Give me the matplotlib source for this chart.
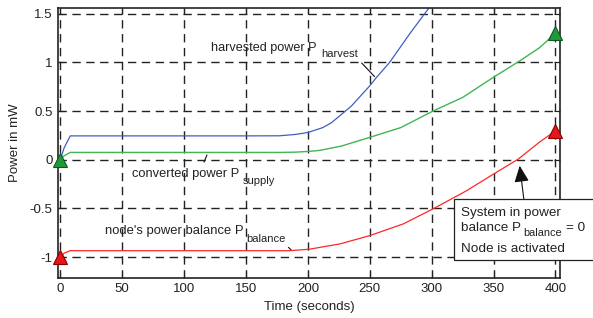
import matplotlib
matplotlib.use("Agg")
import matplotlib.pyplot as plt
from matplotlib.patches import Rectangle

plt.rcParams['font.family'] = ['Liberation Sans', 'DejaVu Sans']

# harvested power P_harvest (mW)
t_harvest = [0, 3, 8, 50, 100, 150, 177, 190, 200, 212, 219, 235, 250, 255, 266, 282, 296, 302]
p_harvest = [0.0, 0.12, 0.245, 0.245, 0.245, 0.245, 0.246, 0.26, 0.28, 0.33, 0.38, 0.55, 0.76, 0.84, 1.0, 1.29, 1.53, 1.62]

# converted power P_supply (mW)
t_supply = [0, 3, 8, 50, 100, 150, 177, 190, 200, 209, 227, 250, 275, 301, 325, 349, 371, 387, 400]
p_supply = [0.0, 0.04, 0.075, 0.075, 0.075, 0.075, 0.075, 0.078, 0.085, 0.095, 0.14, 0.23, 0.33, 0.50, 0.64, 0.84, 1.015, 1.15, 1.30]

# node's power balance P_balance (mW)
t_balance = [0, 3, 8, 50, 100, 150, 185, 201, 226, 250, 277, 301, 328, 350, 370, 387, 397, 400]
p_balance = [-1.0, -0.96, -0.935, -0.935, -0.935, -0.935, -0.935, -0.92, -0.865, -0.78, -0.66, -0.506, -0.32, -0.147, 0.007, 0.18, 0.27, 0.30]

# start / end markers
start_t = [0, 0]
start_p = [0.0, -1.0]
end_t = [400, 400]
end_p = [1.30, 0.30]

xticks = [0, 50, 100, 150, 200, 250, 300, 350, 400]
yticks = [-1, -0.5, 0, 0.5, 1, 1.5]
ytick_labels = ['-1', '-0.5', '0', '0.5', '1', '1.5']

fig = plt.figure(figsize=(5.93, 3.18), dpi=100)
ax = fig.add_axes([0.0978, 0.126, 0.8462, 0.849])

ax.plot(t_harvest, p_harvest, color='#3f5fbf', lw=0.9)
ax.plot(t_supply, p_supply, color='#40b653', lw=1.0)
ax.plot(t_balance, p_balance, color='#ff2626', lw=0.9)

green = '#1f9a3a'
red = '#e8161b'
ax.plot(start_t[0], start_p[0], '^', ms=10.5, color=green, mec='#0b5a1e', mew=0.8, clip_on=False, zorder=5)
ax.plot(start_t[1], start_p[1], '^', ms=10.5, color=red, mec='#8a0000', mew=0.8, clip_on=False, zorder=5)
ax.plot(end_t[0], end_p[0], '^', ms=10.5, color=green, mec='#0b5a1e', mew=0.8, clip_on=False, zorder=5)
ax.plot(end_t[1], end_p[1], '^', ms=10.5, color=red, mec='#8a0000', mew=0.8, clip_on=False, zorder=5)

ax.set_xlim(-1.9, 403.5)
ax.set_ylim(-1.215, 1.56)
ax.set_xticks(xticks)
ax.set_yticks(yticks)
ax.set_xticklabels([str(v) for v in xticks])
ax.set_yticklabels(ytick_labels)
ax.grid(True, color='#222222', lw=1.0, linestyle=(0, (6, 4)))
ax.tick_params(direction='in', length=4, top=True, right=True, labelsize=9.5,
               colors='#222222', pad=4)
for s in ax.spines.values():
    s.set_linewidth(1.2)
    s.set_color('#222222')

ax.set_xlabel('Time (seconds)', fontsize=9.5, color='#222222', labelpad=4)
ax.set_ylabel('Power in mW', fontsize=9.5, color='#222222', labelpad=6)

tc = '#222222'
lc = '#111111'

# curve labels (base text + hand-placed subscript)
ax.text(122, 1.118, 'harvested power P', fontsize=9.1, color=tc, va='baseline')
ax.text(210.5, 1.055, 'harvest', fontsize=8.0, color=tc, va='baseline')
ax.annotate('', xy=(255.4, 0.834), xytext=(241.9, 1.015),
            arrowprops=dict(arrowstyle='-', lw=0.8, color=lc))

ax.text(58.2, -0.18, 'converted power P', fontsize=9.3, color=tc, va='baseline')
ax.text(147, -0.25, 'supply', fontsize=8.0, color=tc, va='baseline')
ax.annotate('', xy=(119.3, 0.075), xytext=(115.2, -0.051),
            arrowprops=dict(arrowstyle='-', lw=0.8, color=lc))

ax.text(35.8, -0.766, "node's power balance P", fontsize=9.4, color=tc, va='baseline')
ax.text(150.3, -0.841, 'balance', fontsize=8.0, color=tc, va='baseline')
ax.annotate('', xy=(188, -0.943), xytext=(182.6, -0.882),
            arrowprops=dict(arrowstyle='-', lw=0.8, color=lc))

# call-out box
ax.add_patch(Rectangle((317.8, -1.026), 130, 0.626, fc='white', ec='#222222',
                       lw=0.9, clip_on=False, zorder=6))
ax.text(324, -0.574, 'System in power', fontsize=9.7, color=tc, va='baseline', zorder=7, clip_on=False)
ax.text(324, -0.728, 'balance P', fontsize=9.7, color=tc, va='baseline', zorder=7, clip_on=False)
ax.text(373.8, -0.785, 'balance', fontsize=7.9, color=tc, va='baseline', zorder=7, clip_on=False)
ax.text(408.9, -0.728, '= 0', fontsize=9.7, color=tc, va='baseline', zorder=7, clip_on=False)
ax.text(324, -0.951, 'Node is activated', fontsize=9.7, color=tc, va='baseline', zorder=7, clip_on=False)
ax.annotate('', xy=(371.1, -0.062), xytext=(374.4, -0.4), annotation_clip=False,
            arrowprops=dict(arrowstyle='-|>,head_length=1.0,head_width=0.45',
                            color=lc, lw=0.8, shrinkA=0, shrinkB=0))

fig.savefig('out.png', dpi=100)
